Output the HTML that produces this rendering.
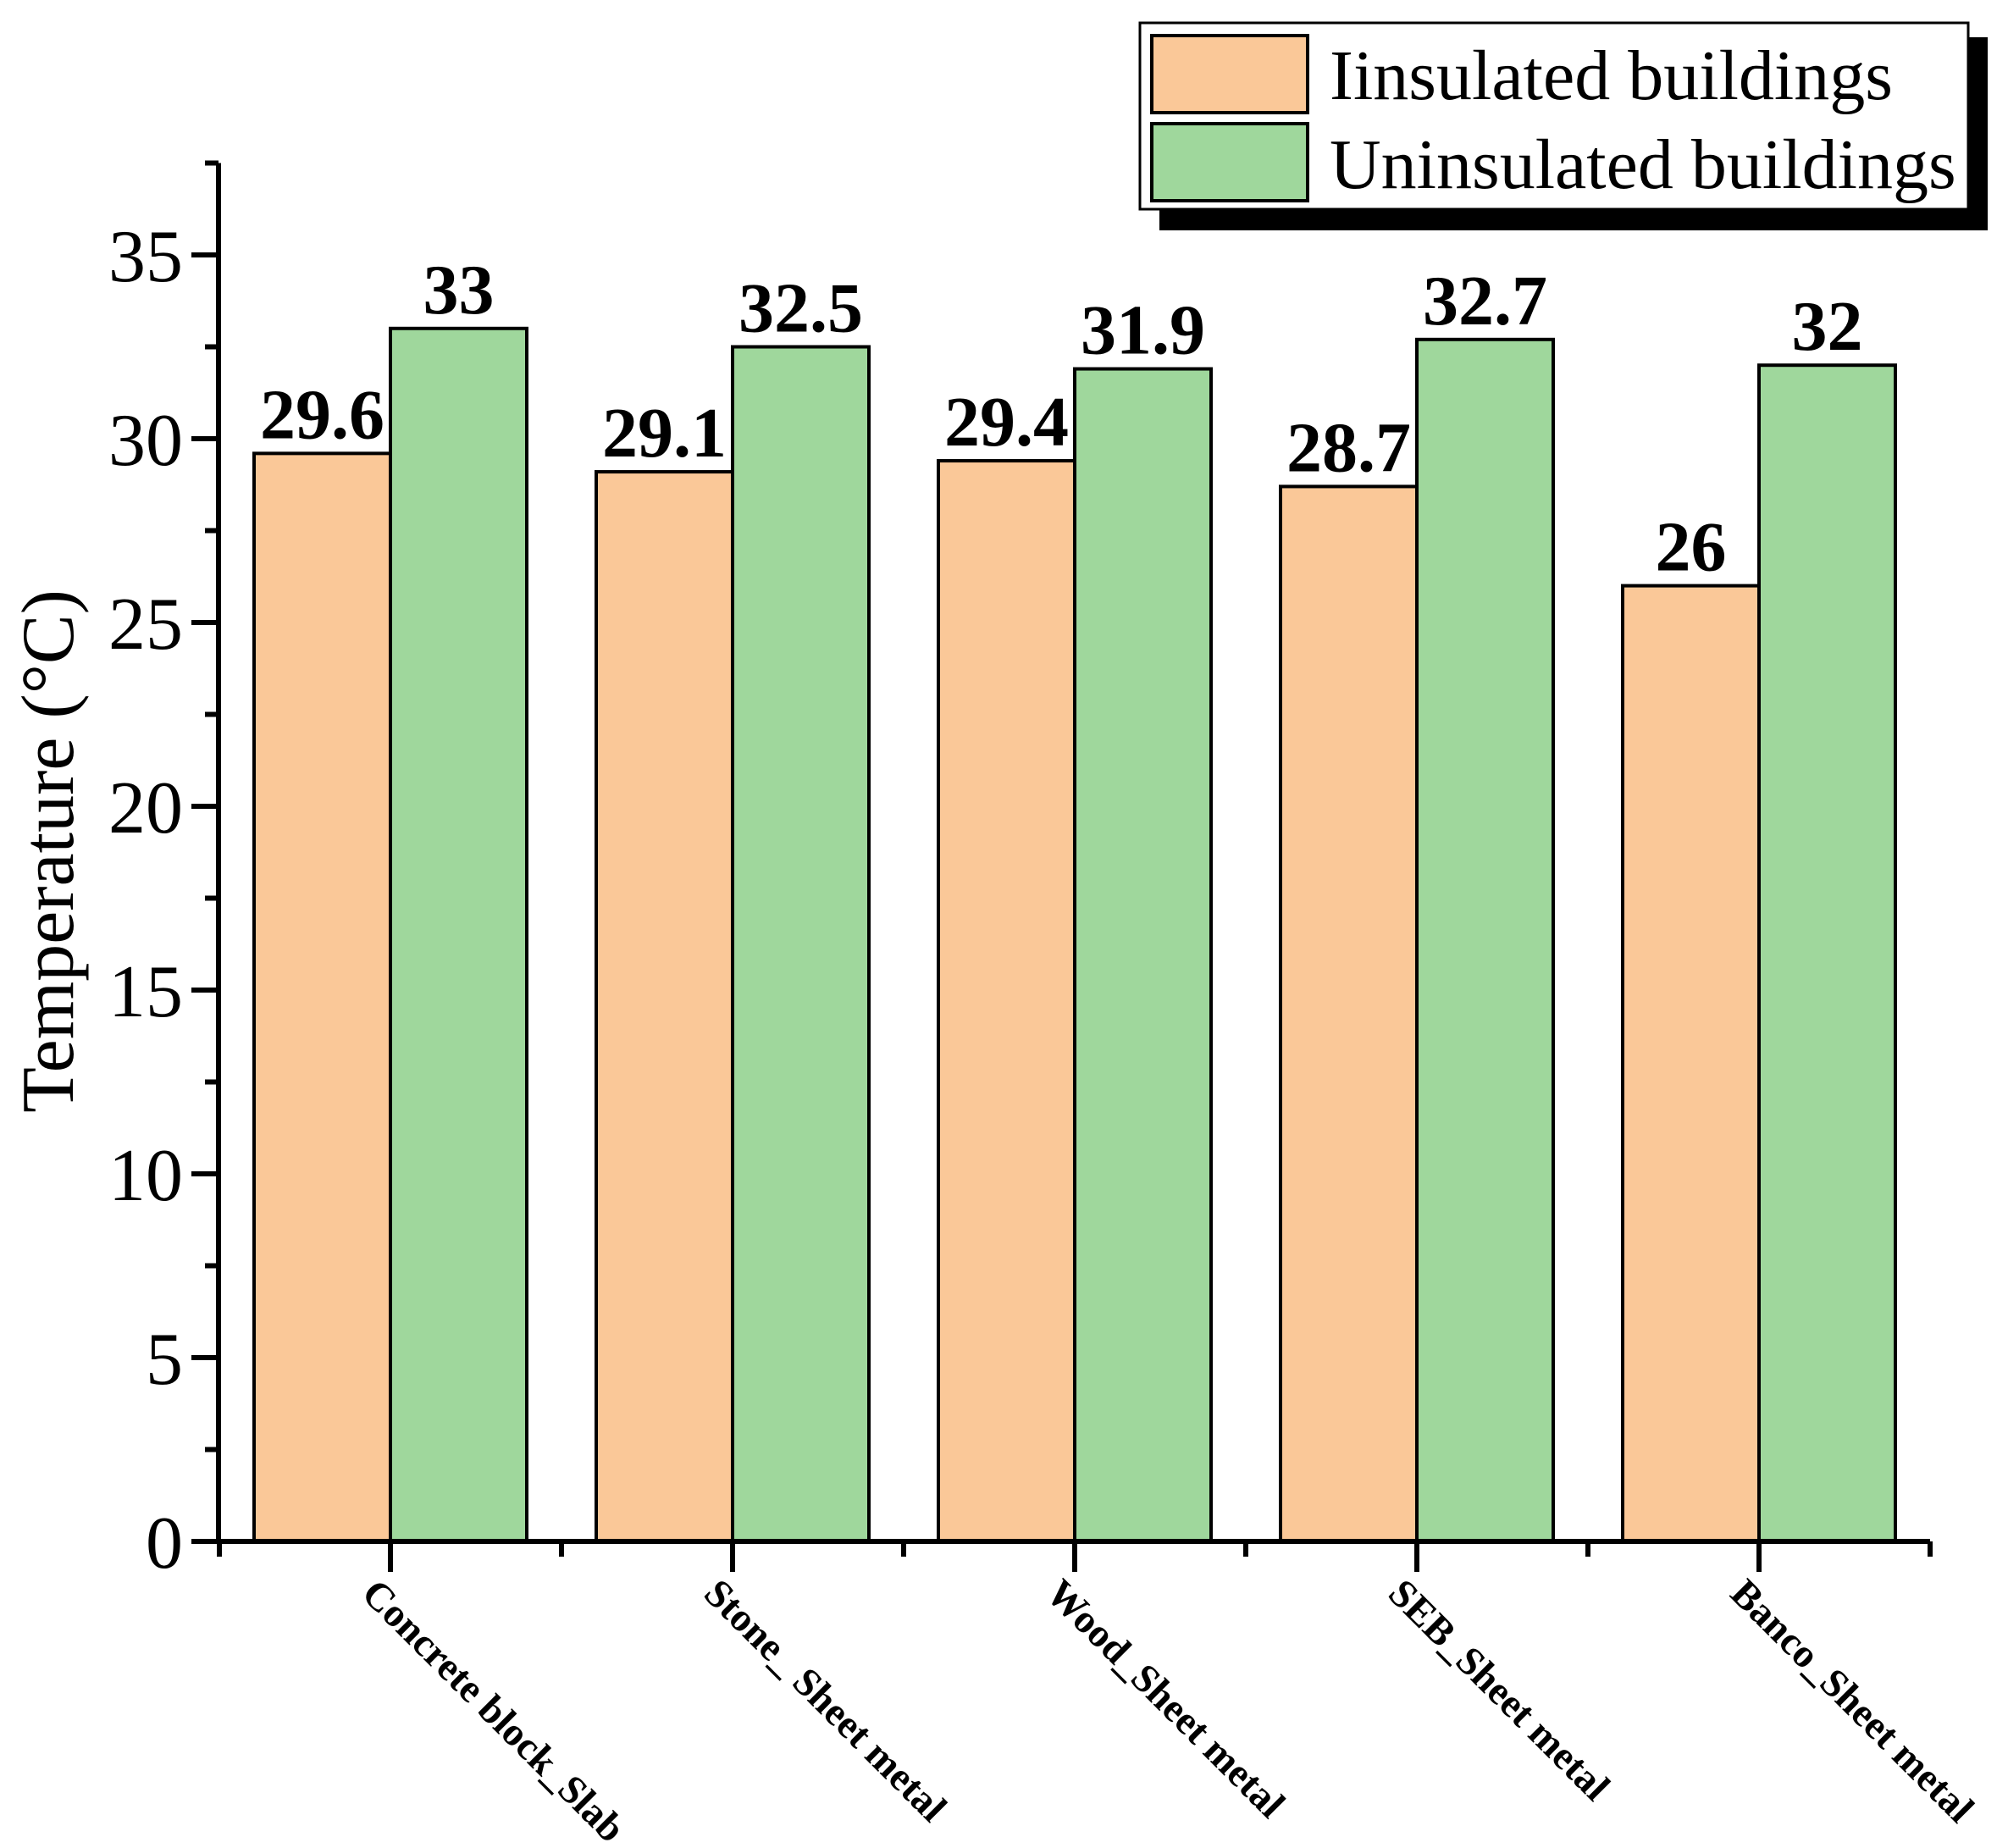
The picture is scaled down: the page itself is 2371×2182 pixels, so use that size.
<!DOCTYPE html>
<html><head><meta charset="utf-8"><style>
body{margin:0;background:#fff}
svg{display:block;font-family:"Liberation Serif",serif}
</style></head><body>
<svg id="chart" width="2371" height="2182" viewBox="0 0 2371 2182" xmlns="http://www.w3.org/2000/svg">
<g id="bars"></g>
<g id="axes"></g>
<text transform="translate(86,1005) rotate(-90)" text-anchor="middle" font-size="88">Temperature (°C)</text>
<g>
<rect x="1369" y="44" width="978" height="228" fill="#000"/>
<rect x="1346" y="27" width="978" height="220" fill="#fff" stroke="#000" stroke-width="3"/>
<rect x="1360" y="42" width="184" height="91" fill="#FAC898" stroke="#000" stroke-width="4"/>
<text x="1570" y="117" font-size="84">Iinsulated buildings</text>
<rect x="1360" y="146" width="184" height="91" fill="#9FD79C" stroke="#000" stroke-width="4"/>
<text x="1570" y="222" font-size="84">Uninsulated buildings</text>
</g>
</svg>
<script>
const categories = ["Concrete block_Slab","Stone_ Sheet metal","Wood_Sheet metal","SEB_Sheet metal","Banco_Sheet metal"];
const insulated = [29.6, 29.1, 29.4, 28.7, 26];
const uninsulated = [33, 32.5, 31.9, 32.7, 32];
const yTicks = [0,5,10,15,20,25,30,35];

const NS="http://www.w3.org/2000/svg";
const x0=258, x1=2279, yBase=1820, pxPerUnit=43.4, yMax=37.5;
const step=404, firstCenter=461, barW=161;
const y = v => yBase - v*pxPerUnit;
const cx = i => firstCenter + i*step;
function mk(tag, attrs, parent){const e=document.createElementNS(NS,tag);for(const k in attrs)e.setAttribute(k,attrs[k]);parent.appendChild(e);return e;}
const bars=document.getElementById('bars'), axes=document.getElementById('axes');

categories.forEach((c,i)=>{
  const series=[[insulated[i],'#FAC898',cx(i)-barW,'insulated'],[uninsulated[i],'#9FD79C',cx(i),'uninsulated']];
  series.forEach(([v,col,bx,nm])=>{
    const r=mk('rect',{x:bx,y:y(v),width:barW,height:yBase-y(v),fill:col,stroke:'#000','stroke-width':4},bars);
    
    
    const t=mk('text',{x:bx+barW/2,y:y(v)-18,'text-anchor':'middle','font-size':84,'font-weight':'bold'},bars);
    t.textContent=String(v);
    
    
  });
  const lb=mk('text',{transform:`translate(${cx(i)-36},1884) rotate(45)`,'font-size':47,'font-weight':'bold'},axes);
  lb.textContent=c;
  
  
  mk('line',{x1:cx(i),x2:cx(i),y1:yBase,y2:yBase+36,stroke:'#000','stroke-width':6},axes);
});
for(let i=0;i<=categories.length;i++){
  const xx = firstCenter - step/2 + i*step;
  mk('line',{x1:xx,x2:xx,y1:yBase,y2:yBase+18,stroke:'#000','stroke-width':6},axes);
}
mk('line',{x1:x0,x2:x0,y1:y(yMax),y2:yBase+3,stroke:'#000','stroke-width':6},axes);
mk('line',{x1:x0-3,x2:x1,y1:yBase,y2:yBase,stroke:'#000','stroke-width':6},axes);
for(let v=0; v<=yMax+0.01; v+=2.5){
  const major = yTicks.includes(v);
  mk('line',{x1:x0-(major?32:16),x2:x0,y1:y(v),y2:y(v),stroke:'#000','stroke-width':6},axes);
}
yTicks.forEach(v=>{
  const t=mk('text',{x:216,y:y(v)+31,'text-anchor':'end','font-size':88},axes);
  t.textContent=v;
  
  
});
</script>
</body></html>
